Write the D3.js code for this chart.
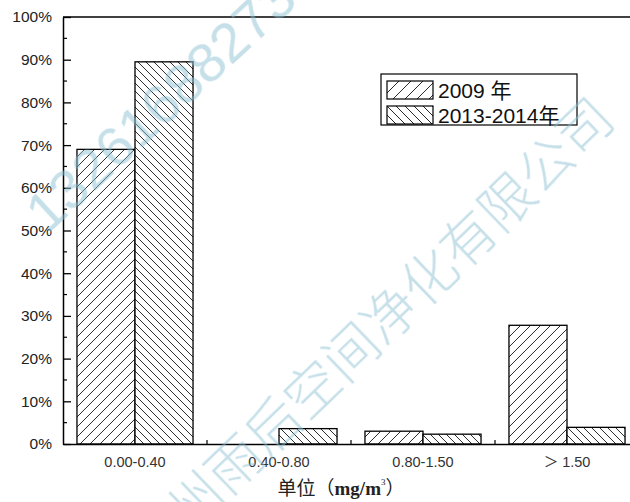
<!DOCTYPE html>
<html>
<head>
<meta charset="utf-8">
<script src="https://cdn.jsdelivr.net/npm/d3@7"></script>
<style>
  html, body { margin: 0; padding: 0; background: #fff; }
  svg { display: block; }
</style>
</head>
<body>
<div id="chart"></div>
<script>
// Concentration ranges (mg/m3) and share of samples in each range
const categories = ["0.00-0.40", "0.40-0.80", "0.80-1.50", "＞ 1.50"];
const seriesNames = ["2009 年", "2013-2014年"];
const values2009 = [69.0, 0, 3.0, 27.8];
const values2013 = [89.5, 3.6, 2.3, 3.9];
const yTicks = [0, 10, 20, 30, 40, 50, 60, 70, 80, 90, 100];
const yMinorTicks = [5, 15, 25, 35, 45, 55, 65, 75, 85, 95];
const watermarkPhone = "13261688273";
const watermarkCompany = "苏州雨后空间净化有限公司";

const W = 630, H = 502;
const margin = { left: 63, top: 17, right: -9, bottom: 58 };
const plotW = W - margin.left - margin.right;   // frame runs past the right edge
const plotH = H - margin.top - margin.bottom;

const svg = d3.select("#chart").append("svg")
  .attr("width", W).attr("height", H)
  .style("font-family", "'Liberation Sans', Arial, sans-serif");

// hatch patterns
const defs = svg.append("defs");
function hatch(id, spacing, forward) {
  const p = defs.append("pattern")
    .attr("id", id)
    .attr("patternUnits", "userSpaceOnUse")
    .attr("width", spacing).attr("height", spacing);
  p.append("rect").attr("width", spacing).attr("height", spacing).attr("fill", "#fff");
  const s = spacing;
  const d = forward
    ? `M0,${s} L${s},0 M${-s},${s} L0,0 M${s},${2*s} L${2*s},${s}`
    : `M0,0 L${s},${s} M${-s},0 L0,${s} M${s},${-s} L${2*s},0 M0,${-s} L${s},0 M${s},0 L${2*s},${s}`;
  p.append("path").attr("d", d).attr("stroke", "#111").attr("stroke-width", 0.9);
}
hatch("h2009", 10, true);
hatch("h2013", 8, false);
hatch("h2009L", 12, true);
hatch("h2013L", 9, false);
const fills = ["url(#h2009)", "url(#h2013)"];
const legendFills = ["url(#h2009L)", "url(#h2013L)"];

const g = svg.append("g").attr("transform", `translate(${margin.left},${margin.top})`);

const x0 = d3.scaleBand().domain(categories).range([0, plotW])
  .paddingInner(0.194).paddingOuter(0.097);
const x1 = d3.scaleBand().domain(seriesNames).range([0, x0.bandwidth()]);
const y = d3.scaleLinear().domain([0, 100]).range([plotH, 0]);

const rows = categories.map((c, i) => ({ cat: c, vals: [values2009[i], values2013[i]] }));

// bars
const groups = g.selectAll("g.grp").data(rows).join("g")
  .attr("class", "grp")
  .attr("transform", d => `translate(${x0(d.cat)},0)`);
groups.selectAll("rect")
  .data(d => d.vals.map((v, k) => ({ v, k })).filter(e => e.v > 0))
  .join("rect")
  .attr("x", e => x1(seriesNames[e.k]))
  .attr("y", e => y(e.v))
  .attr("width", x1.bandwidth())
  .attr("height", e => plotH - y(e.v))
  .attr("fill", e => fills[e.k])
  .attr("stroke", "#000")
  .attr("stroke-width", 1.3);

// frame: top line
g.append("line").attr("x1", 0).attr("x2", plotW).attr("y1", 0).attr("y2", 0)
  .attr("stroke", "#000").attr("stroke-width", 1.5);

// y axis (ticks pointing inward)
const yAxis = d3.axisLeft(y).tickValues(yTicks).tickFormat(d => d + "%")
  .tickSizeInner(-8).tickSizeOuter(0).tickPadding(11);
const ya = g.append("g").call(yAxis);
ya.select(".domain").attr("stroke", "#000").attr("stroke-width", 1.5);
ya.selectAll(".tick line").attr("stroke", "#000").attr("stroke-width", 1.3);
ya.selectAll(".tick text").attr("font-size", 15.5).attr("fill", "#222")
  .attr("font-family", "'Liberation Sans', Arial, sans-serif");
g.append("g").selectAll("line").data(yMinorTicks).join("line")
  .attr("x1", 0).attr("x2", 4).attr("y1", d => y(d)).attr("y2", d => y(d))
  .attr("stroke", "#000").attr("stroke-width", 1.2);

// x axis
const xAxis = d3.axisBottom(x0).tickSize(0).tickPadding(13);
const xa = g.append("g").attr("transform", `translate(0,${plotH})`).call(xAxis);
xa.select(".domain").attr("stroke", "#000").attr("stroke-width", 1.5);
xa.selectAll(".tick text").attr("font-size", 14.5).attr("fill", "#333")
  .attr("font-family", "'Liberation Sans', Arial, 'Noto Sans CJK SC', sans-serif")
  .attr("dy", "0.71em");
// small ticks at category boundaries
const step = x0.step();
g.append("g").selectAll("line").data(categories.slice(1)).join("line")
  .attr("x1", d => x0(d) - step * 0.097).attr("x2", d => x0(d) - step * 0.097)
  .attr("y1", plotH).attr("y2", plotH - 4)
  .attr("stroke", "#000").attr("stroke-width", 1.2);

// axis title
const title = svg.append("text")
  .attr("x", 341).attr("y", 495)
  .attr("text-anchor", "middle")
  .attr("fill", "#222");
title.append("tspan").attr("font-family", "'Noto Sans CJK SC', sans-serif")
  .attr("font-size", 19).text("单位（");
title.append("tspan").attr("font-family", "'Liberation Serif', 'Times New Roman', serif")
  .attr("font-size", 19).attr("font-weight", "bold").text("mg/m");
title.append("tspan").attr("font-family", "'Liberation Serif', serif")
  .attr("font-size", 9).attr("dy", -10).text("3");
title.append("tspan").attr("font-family", "'Noto Sans CJK SC', sans-serif")
  .attr("font-size", 19).attr("dy", 10).text("）");

// legend
const lg = svg.append("g").attr("transform", "translate(381,74)");
lg.append("rect").attr("width", 196).attr("height", 51)
  .attr("fill", "#fff").attr("stroke", "#000").attr("stroke-width", 1.2);
seriesNames.forEach((name, i) => {
  const row = lg.append("g").attr("transform", `translate(6,${7 + i * 25})`);
  row.append("rect").attr("width", 46).attr("height", 18)
    .attr("fill", legendFills[i]).attr("stroke", "#000").attr("stroke-width", 1.2);
  row.append("text").attr("x", 51).attr("y", 17)
    .attr("font-size", 21).attr("fill", "#111")
    .attr("font-family", "'Liberation Sans', Arial, 'Noto Sans CJK SC', sans-serif")
    .text(name);
});

// watermark overlay
const wm = svg.append("g").attr("fill", "#8cc0d2").attr("opacity", 0.5)
  .style("pointer-events", "none");
wm.append("text")
  .attr("transform", "translate(160,104) rotate(-42.6)")
  .attr("text-anchor", "middle").attr("dominant-baseline", "central")
  .attr("font-family", "'Liberation Sans', Arial, sans-serif")
  .attr("font-size", 56)
  .text(watermarkPhone);
wm.append("text")
  .attr("transform", "translate(368,330) rotate(-43.9)")
  .attr("text-anchor", "middle").attr("dominant-baseline", "central")
  .attr("font-family", "'Noto Sans CJK SC', sans-serif")
  .attr("font-weight", 300)
  .attr("font-size", 54)
  .text(watermarkCompany);
</script>
</body>
</html>
